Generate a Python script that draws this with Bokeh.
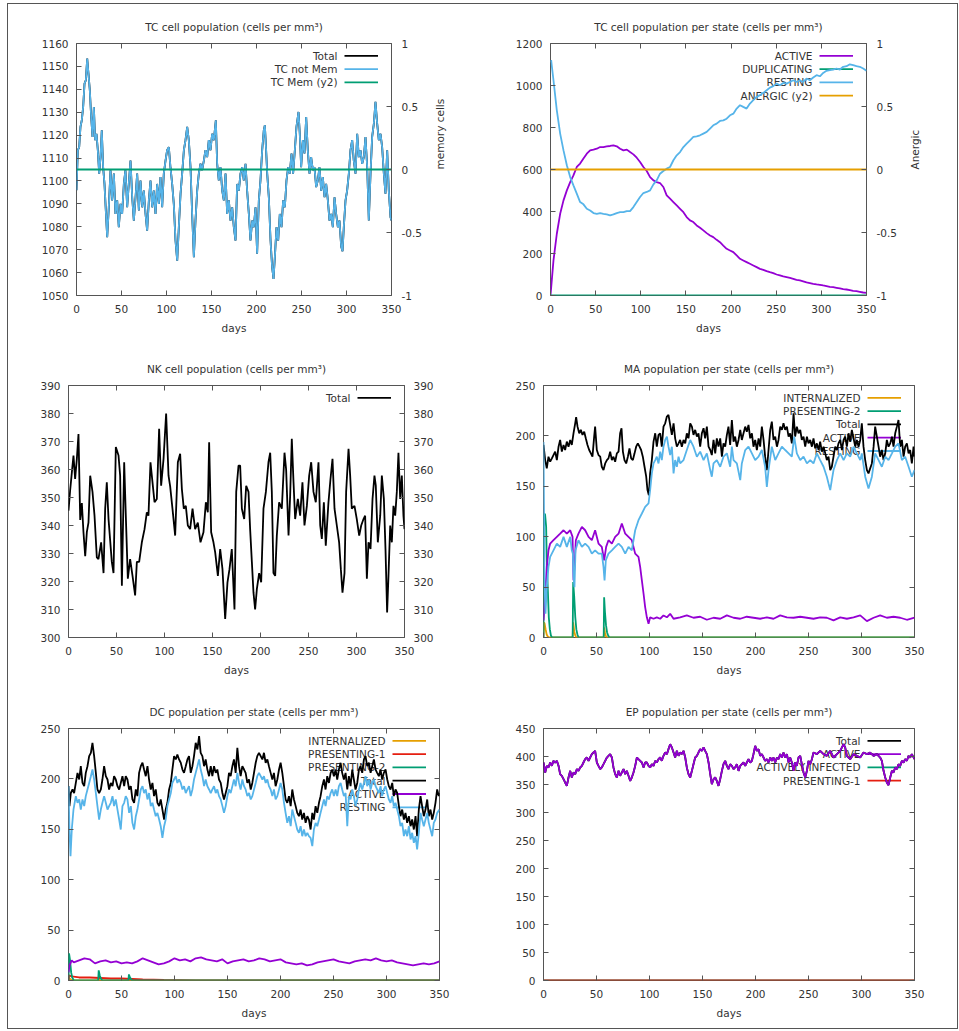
import math
from bokeh.plotting import figure
from bokeh.models import Range1d, LinearAxis, FixedTicker, CustomJSTickFormatter, Label, Arrow
from bokeh.layouts import row, column
from bokeh.embed import file_html
from bokeh.resources import INLINE

FONT = "DejaVu Sans"
FS = "10.5px"
TXT = "#333333"
EDGE = "#555555"
LW = 1.8
BLACK, BLUE, GREEN = "#000000", "#56B4E9", "#009E73"
PURPLE, ORANGE, RED = "#9400D3", "#E69F00", "#E51E10"

DAY_TICKS = [0, 50, 100, 150, 200, 250, 300, 350]
Y2_TICKS = [-1, -0.5, 0, 0.5, 1]
TC_TICKS = [1050, 1060, 1070, 1080, 1090, 1100, 1110, 1120, 1130, 1140, 1150, 1160]
TCS_TICKS = [0, 200, 400, 600, 800, 1000, 1200]
NK_TICKS = [300, 310, 320, 330, 340, 350, 360, 370, 380, 390]
MA_TICKS = [0, 50, 100, 150, 200, 250]
EP_TICKS = [0, 50, 100, 150, 200, 250, 300, 350, 400, 450]

# ---------------- data (day, cells per mm3) ----------------
TC_NOT_MEM = [
    (0, 1096), (1.5, 1113.4), (3.0, 1114.8), (4.4, 1123.6), (5.9, 1126.5), (7.4, 1132.3), (8.9, 1142.5), (10.4, 1144), (11.9, 1153.4), (13.3, 1146.9),
    (14.8, 1139.6), (16.3, 1128), (17.8, 1119.2), (19.3, 1132.3), (20.7, 1117.8), (22.2, 1120.6), (23.7, 1113.4), (25.2, 1103.2), (26.7, 1110.4), (28.1, 1122.1),
    (29.6, 1106), (31.1, 1098.7), (32.2, 1090), (34.1, 1075.4), (35.9, 1088.5), (37.8, 1104.7), (39.6, 1091.5), (41.5, 1103.2), (43.3, 1085.6), (45.2, 1091.5),
    (47.0, 1079.8), (48.9, 1090), (50.7, 1085.6), (52.6, 1098.7), (54.4, 1104.7), (56.3, 1088.5), (58.1, 1098.7), (60.0, 1108.9), (61.9, 1092.9), (63.7, 1082.7),
    (65.6, 1092.9), (67.4, 1103.2), (69.3, 1087.1), (71.1, 1100.2), (73.0, 1088.5), (74.8, 1095.8), (76.7, 1085.6), (78.5, 1078.3), (80.4, 1091.5), (82.2, 1100.2),
    (84.1, 1088.5), (85.9, 1095.8), (87.8, 1085.6), (89.6, 1098.7), (91.5, 1090), (93.3, 1101.7), (95.2, 1088.5), (97.0, 1103.2), (98.9, 1108.9), (100.7, 1113.4),
    (102.6, 1114.8), (104.4, 1106), (106.3, 1098.7), (108.1, 1090), (110.0, 1074), (111.9, 1065.2), (113.7, 1079.8), (115.6, 1094.4), (117.4, 1103.2), (119.3, 1113.4),
    (121.1, 1117.8), (123.0, 1123.6), (124.8, 1117.8), (126.7, 1106), (128.5, 1085.6), (130.4, 1066.7), (132.2, 1082.7), (134.1, 1095.8), (135.9, 1103.2), (137.8, 1107.5),
    (139.6, 1104.7), (141.5, 1108.9), (143.3, 1113.4), (145.2, 1110.4), (147.0, 1117.8), (148.9, 1113.4), (150.7, 1120.6), (152.6, 1117.8), (154.8, 1126.5), (156.3, 1107.5),
    (158.1, 1100.2), (160.0, 1106), (161.9, 1095.8), (163.7, 1091.5), (165.6, 1103.2), (167.4, 1085.6), (169.3, 1091.5), (171.1, 1082.7), (173.0, 1088.5), (174.8, 1079.8),
    (176.7, 1074), (178.5, 1098.7), (180.4, 1095.8), (182.2, 1103.2), (184.1, 1106), (185.9, 1100.2), (187.8, 1107.5), (189.6, 1095.8), (191.5, 1085.6), (193.3, 1074),
    (195.2, 1082.7), (197.0, 1079.8), (198.9, 1088.5), (200.7, 1068.2), (202.6, 1091.5), (204.4, 1100.2), (206.3, 1113.4), (208.1, 1122.1), (209.3, 1124.3), (210.7, 1113.4),
    (211.9, 1103.2), (213.7, 1092.9), (215.6, 1074), (217.4, 1062.3), (218.9, 1057.2), (220.4, 1066.7), (222.2, 1079.8), (224.1, 1074), (225.9, 1085.6), (227.8, 1079.8),
    (229.6, 1091.5), (231.5, 1088.5), (233.3, 1100.2), (235.2, 1106), (237.0, 1103.2), (238.9, 1112), (240.7, 1103.2), (242.6, 1113.4), (244.4, 1123.6), (246.7, 1130.1),
    (248.1, 1120.6), (249.6, 1106), (251.5, 1117.8), (253.3, 1112), (255.2, 1127.9), (257.0, 1113.4), (258.9, 1103.2), (260.7, 1110.4), (262.6, 1104.7), (264.4, 1106),
    (266.3, 1097.3), (268.1, 1100.2), (270.0, 1106), (271.9, 1095.8), (273.7, 1101.7), (275.6, 1092.9), (277.4, 1098.7), (279.3, 1091.5), (281.1, 1082.7), (283.0, 1085.6),
    (284.8, 1079.8), (286.7, 1092.9), (288.5, 1085.6), (290.4, 1079.8), (292.2, 1082.7), (294.1, 1071.4), (295.6, 1069.3), (297.0, 1079.8), (298.9, 1091.5), (300.7, 1095.8),
    (302.6, 1103.2), (304.4, 1113.4), (306.3, 1117.8), (308.1, 1108.9), (310.0, 1103.2), (311.9, 1120.6), (313.7, 1110.4), (315.6, 1113.4), (317.4, 1107.5), (319.3, 1110.4),
    (321.1, 1119.2), (323.0, 1106), (324.8, 1082.7), (326.7, 1103.2), (328.5, 1119.2), (330.4, 1125), (332.2, 1134.5), (334.1, 1125), (335.9, 1117.8), (337.8, 1120.6),
    (339.6, 1114.8), (341.5, 1103.2), (343.3, 1094.4), (345.2, 1113.4), (347.0, 1095.8), (348.9, 1084.2), (350.0, 1082.7)]
TC_TOTAL = TC_NOT_MEM
TC_MEM = [(0, 0), (350, 0)]

TCS_ACTIVE = [
    (0, 0), (3.3, 167), (7, 294), (10.7, 389), (14.4, 453), (18.1, 500.7), (21.8, 540), (25.4, 572), (29.1, 612), (32.8, 628),
    (36.5, 652), (40.2, 675.5), (43.9, 691), (47.6, 694.6), (51.3, 699), (55, 707), (58.6, 707), (62.3, 710.5), (66, 712), (69.7, 715),
    (73.4, 710.5), (77.1, 699), (80.8, 691), (84.5, 694.6), (88.1, 683), (91.8, 672), (95.5, 656), (99.2, 636), (102.9, 612), (106.6, 593),
    (110.3, 564), (114, 548), (117.6, 540), (121.3, 535.6), (125, 516.5), (128.7, 477), (132.4, 461), (136.1, 445), (139.8, 429), (143.5, 413),
    (147.2, 397), (150.8, 373.5), (154.5, 357.6), (158.2, 349.7), (161.9, 333.8), (165.6, 322.6), (169.3, 310), (173, 297), (176.7, 286), (180.3, 278),
    (184, 265), (187.7, 254), (191.4, 238), (195.1, 222.5), (198.8, 214.6), (202.5, 206.6), (206.2, 190.7), (209.9, 174.8), (213.5, 167), (217.2, 159),
    (220.9, 151), (224.6, 143), (228.3, 135), (232, 127), (235.7, 122.4), (239.4, 116), (243, 111), (246.7, 106.5), (250.4, 100), (254.1, 95.4),
    (257.8, 90.6), (261.5, 87.4), (265.2, 84), (268.9, 79.5), (272.5, 74.7), (276.2, 71.5), (279.9, 66.8), (283.6, 62), (287.3, 58.8), (291, 55.6),
    (294.7, 52.5), (298.4, 50.9), (302, 47.7), (305.7, 44.5), (309.4, 41.3), (313.1, 39.7), (316.8, 36.6), (320.5, 33.4), (324.2, 30.2), (327.9, 28.6),
    (331.6, 25.4), (335.2, 22.3), (338.9, 20.7), (342.6, 17.5), (346.3, 14.3), (350, 12.7)]
TCS_DUPLICATING = [(0, 0), (350, 0)]
TCS_RESTING = [
    (0, 1110), (0.7, 1120.5), (3.3, 1025), (7, 882), (10.7, 771), (14.4, 691), (18.1, 620), (21.8, 564), (25.4, 524.5), (29.1, 485),
    (32.8, 445), (36.5, 434), (40.2, 413), (43.9, 405), (47.6, 392.6), (51.3, 389), (55, 392.6), (58.6, 389), (62.3, 386), (66, 381.5),
    (69.7, 386), (73.4, 392.6), (77.1, 397), (80.8, 397), (84.5, 402), (88.1, 402), (91.8, 421), (95.5, 445), (99.2, 469), (102.9, 488),
    (106.6, 493), (110.3, 500.7), (114, 529), (117.6, 548), (121.3, 580), (125, 593), (128.7, 604), (132.4, 612), (136.1, 644), (139.8, 667.5),
    (143.5, 683), (147.2, 707), (150.8, 723), (154.5, 739), (158.2, 755), (161.9, 758), (165.6, 763), (169.3, 771), (173, 779), (176.7, 795),
    (180.3, 810.6), (184, 818.5), (187.7, 831), (191.4, 834), (195.1, 842), (198.8, 858), (202.5, 866), (206.2, 890), (209.9, 906), (213.5, 898),
    (217.2, 890), (220.9, 914), (224.6, 930), (228.3, 946), (232, 954), (235.7, 965), (239.4, 977.5), (243, 990), (246.7, 997), (250.4, 1009),
    (254.1, 1001), (257.8, 1012), (261.5, 1009), (265.2, 1017), (268.9, 1025), (272.5, 1017), (276.2, 1025), (279.9, 1017), (283.6, 1033), (287.3, 1025),
    (291, 1038), (294.7, 1049), (298.4, 1044), (302, 1060), (305.7, 1070), (309.4, 1073), (313.1, 1076), (316.8, 1081), (320.5, 1076), (324.2, 1089),
    (327.9, 1092), (331.6, 1101), (335.2, 1097), (338.9, 1092), (342.6, 1089), (346.3, 1081), (350, 1070)]
TCS_ANERGIC = [(0, 0), (350, 0)]

NK_TOTAL = [
    (0, 345.3), (1.7, 352.5), (3.5, 359), (5.2, 365), (6.9, 356.6), (8.7, 363.8), (10.4, 372.7), (12.2, 342), (13.9, 348), (15.6, 337.6),
    (17.4, 329), (19.1, 337.6), (20.8, 341), (22.6, 357.8), (25.0, 352), (27.1, 343.5), (29.5, 328.6), (31.2, 328), (34.0, 334), (36.5, 323),
    (38.2, 346), (39.9, 355.4), (41.7, 342.3), (45.1, 327), (46.9, 323), (49.3, 368), (52.1, 365), (53.8, 357.8), (55.6, 318.5), (58.0, 362.6),
    (59.7, 343.5), (61.8, 321), (64.2, 328), (66.7, 322), (69.4, 315), (71.2, 327), (73.6, 327), (76.4, 334), (79.2, 338.7), (81.6, 344.7),
    (83.3, 343.5), (85.4, 362.6), (87.5, 355.4), (89.6, 348.3), (92.0, 349.5), (94.4, 374.5), (96.5, 354.2), (99.0, 363.8), (101.7, 380), (104.2, 357.8),
    (105.9, 354), (108.3, 346), (111.1, 336.4), (113.9, 362.6), (116.3, 365.6), (118.1, 353), (120.1, 346), (122.2, 347), (124.3, 340), (126.7, 338.7),
    (129.2, 346), (131.9, 338.7), (134.7, 341), (137.5, 334), (140.6, 337.6), (143.1, 348.3), (145.1, 344.7), (146.5, 369.7), (148.6, 337.6), (151.0, 334),
    (152.8, 330.4), (155.6, 322), (158.0, 331.6), (160.4, 324.4), (163.2, 306.6), (165.6, 319.7), (167.7, 324.4), (170.1, 331.6), (172.9, 310), (174.7, 352),
    (177.1, 361.4), (178.8, 361.4), (180.6, 346), (183.0, 342.3), (185.1, 354.2), (187.5, 352), (189.2, 338.7), (191.0, 327), (192.7, 316), (194.4, 310),
    (196.2, 317.3), (198.6, 323), (200.7, 319.7), (203.1, 346), (205.6, 352), (208.3, 362.6), (210.1, 366), (211.8, 352), (213.5, 323), (215.3, 322),
    (217.0, 336.4), (219.4, 348.3), (222.2, 346), (225.0, 366), (226.7, 360), (229.2, 336.4), (230.9, 350.7), (232.6, 371), (234.4, 355.4), (236.1, 342.3),
    (238.9, 349.5), (241.3, 343.5), (243.7, 355.4), (245.8, 340), (248.3, 347), (250.7, 357.8), (252.8, 362.6), (255.2, 352), (257.6, 348.3), (260.4, 362.6),
    (262.2, 340), (263.9, 335.2), (266.0, 348.3), (268.0, 332.8), (270.8, 348.3), (272.9, 356.6), (275.0, 363.8), (277.1, 346), (279.5, 340), (281.9, 334),
    (283.7, 324.4), (285.4, 316), (287.5, 323), (289.2, 352), (291.7, 367.4), (293.4, 357.8), (295.1, 346), (297.9, 347), (300.3, 342.3), (302.8, 336.4),
    (304.9, 340), (307.3, 342.3), (309.0, 343.5), (310.8, 321), (312.5, 334), (314.6, 331.6), (316.7, 349.5), (318.7, 357.8), (320.1, 354.2), (322.2, 334),
    (324.7, 343.5), (326.4, 357.8), (328.5, 349.5), (330.2, 331.6), (331.9, 308.9), (333.3, 322), (335.1, 340), (336.8, 334), (338.5, 347), (340.3, 343.5),
    (342.0, 352), (343.7, 366), (345.5, 349.5), (347.2, 357.8), (348.9, 343.5), (350, 338.7)]

MA_INTERNALIZED = [(0, 0), (0.5, 15), (1, 14), (2, 8), (3, 3), (4, 1), (5, 0), (27.5, 0), (28, 15), (29, 6), (30, 2), (31, 0),
                   (56.8, 0), (57.2, 10), (58, 5), (59, 1), (60, 0), (350, 0)]
MA_PRESENTING2 = [(0, 0), (0.5, 123), (1.5, 122), (2.5, 110), (3, 80), (4, 50), (5, 20), (6, 8), (7, 2), (8, 0),
                  (27.5, 0), (28, 55), (29, 40), (30, 20), (31, 8), (32, 3), (33, 0),
                  (56.8, 0), (57.2, 40), (58, 25), (59, 12), (60, 5), (61, 2), (62, 0), (350, 0)]
MA_TOTAL = [
    (0, 191), (1.6, 176), (3.1, 167.8), (4.7, 179.4), (6.3, 174.4), (7.9, 177.7), (9.4, 181), (11.0, 184.4), (12.6, 176), (14.2, 189.3),
    (15.7, 196), (17.3, 184.4), (18.9, 191), (20.4, 186), (22.0, 194.3), (23.6, 189.3), (25.2, 196), (26.7, 191), (28.3, 202.6), (29.9, 212.5),
    (30.8, 218.5), (32.1, 209.2), (33.7, 202.6), (35.2, 206), (36.8, 201), (38.4, 204.2), (39.9, 197.6), (41.5, 191), (43.1, 186), (44.7, 182.7),
    (46.2, 179.4), (47.8, 199.3), (48.7, 209.2), (50.3, 186), (51.9, 181), (53.5, 179.4), (55.0, 169.4), (56.6, 166.1), (58.2, 172.7), (59.8, 176),
    (61.3, 177.7), (62.9, 184.4), (64.5, 176), (66.0, 179.4), (67.6, 174.4), (69.2, 182.7), (70.8, 184.4), (72.3, 202.6), (73.6, 207.6), (74.9, 184.4),
    (76.4, 176), (78.0, 172.7), (79.6, 179.4), (81.1, 187.7), (82.7, 177.7), (84.3, 176), (85.9, 182.7), (87.4, 189.3), (89.0, 192.6), (90.6, 189.3),
    (92.1, 186), (93.7, 179.4), (95.3, 169.4), (96.9, 159.5), (98.1, 146.2), (99.4, 141.2), (100.6, 162.8), (102.2, 176), (103.8, 194.3), (105.4, 202.6),
    (106.9, 189.3), (108.5, 201), (110.1, 202.6), (111.6, 189.3), (113.2, 209.2), (114.8, 212.5), (116.4, 219.2), (117.9, 220.8), (119.5, 210.9), (121.1, 201),
    (122.7, 212.5), (124.2, 197.6), (125.8, 189.3), (127.4, 192.6), (128.9, 196), (130.5, 189.3), (132.1, 196), (133.7, 192.6), (135.2, 202.6), (136.8, 197.6),
    (138.4, 212.5), (140.0, 209.2), (141.5, 201), (143.1, 206), (144.7, 199.3), (146.2, 202.6), (147.8, 189.3), (149.4, 202.6), (151.0, 207.6), (152.5, 197.6),
    (154.1, 209.2), (155.7, 189.3), (157.3, 186), (158.8, 181), (160.4, 196), (162.0, 182.7), (163.5, 197.6), (165.1, 189.3), (166.7, 197.6), (168.3, 179.4),
    (169.8, 192.6), (171.4, 189.3), (173.0, 201), (174.5, 209.2), (176.1, 191), (177.7, 215.8), (179.3, 194.3), (180.8, 199.3), (182.4, 189.3), (184.0, 196),
    (185.6, 206), (187.1, 196), (188.7, 202.6), (190.3, 209.2), (191.8, 204.2), (193.4, 210.9), (195.0, 197.6), (196.6, 202.6), (198.1, 189.3), (199.7, 196),
    (201.3, 186), (202.9, 197.6), (204.4, 189.3), (206.0, 209.2), (207.6, 196), (209.1, 179.4), (210.7, 166.1), (212.3, 186), (213.9, 206), (215.4, 214.2),
    (217.0, 196), (218.6, 199.3), (220.2, 189.3), (221.7, 196), (223.3, 209.2), (224.9, 206), (226.4, 212.5), (228.0, 206), (229.6, 209.2), (231.2, 199.3),
    (232.7, 202.6), (234.3, 192.6), (235.9, 222.5), (237.4, 199.3), (239.0, 209.2), (240.6, 202.6), (242.2, 206), (243.7, 196), (245.3, 199.3), (246.9, 189.3),
    (248.5, 199.3), (250.0, 192.6), (251.6, 196), (253.2, 189.3), (254.7, 197.6), (256.3, 187.7), (257.9, 192.6), (259.5, 186), (261.0, 194.3), (262.6, 184.4),
    (264.2, 189.3), (265.8, 182.7), (267.3, 176), (268.9, 179.4), (270.5, 166.1), (272.0, 169.4), (273.6, 179.4), (275.2, 189.3), (276.8, 186), (278.3, 192.6),
    (279.9, 196), (281.5, 186), (283.1, 196), (284.6, 199.3), (286.2, 189.3), (287.8, 202.6), (289.3, 194.3), (290.9, 206), (292.5, 197.6), (294.1, 189.3),
    (295.6, 196), (297.2, 189.3), (298.8, 196), (300.3, 212.5), (301.9, 189.3), (303.5, 176), (305.1, 166.1), (306.6, 162.8), (308.2, 167.8), (309.8, 172.7),
    (311.4, 189.3), (312.9, 209.2), (314.5, 199.3), (316.1, 189.3), (317.6, 179.4), (319.2, 186), (320.8, 176), (322.4, 182.7), (323.9, 196), (325.5, 189.3),
    (327.1, 192.6), (328.7, 199.3), (330.2, 189.3), (331.8, 202.6), (333.4, 209.2), (334.9, 215.8), (336.5, 189.3), (338.1, 196), (339.7, 179.4), (341.2, 189.3),
    (342.8, 192.6), (344.4, 182.7), (345.9, 186), (347.5, 172.7), (349.1, 189.3), (350, 179.4)]
MA_ACTIVE = [
    (0, 17), (1.6, 43), (3.1, 70), (4.7, 86.5), (6.3, 93.2), (9.4, 96.5), (12.6, 99.8), (15.7, 103), (18.9, 106.4), (22.0, 103),
    (25.2, 106.4), (27.4, 99.8), (28.3, 56.7), (29.2, 70), (30.5, 96.5), (33.0, 103), (36.2, 109.7), (39.3, 106.4), (42.5, 99.8), (45.6, 96.5),
    (48.7, 106.4), (51.9, 93.2), (55.0, 89.9), (57.2, 76.6), (59.1, 89.9), (61.3, 96.5), (64.5, 93.2), (67.6, 99.8), (70.8, 103), (73.9, 113.1),
    (77.1, 103), (80.2, 99.8), (83.3, 96.5), (86.5, 83.2), (89.6, 80), (91.2, 70), (92.8, 56.7), (94.4, 43.4), (95.9, 30.2), (97.5, 20),
    (99.1, 13.6), (100.6, 20), (103.8, 18.6), (106.9, 20), (110.1, 18.6), (113.2, 21.9), (116.4, 20), (119.5, 23.5), (122.7, 18.6), (128.9, 20),
    (135.2, 21.9), (141.5, 19.6), (147.8, 20.6), (154.1, 17.6), (160.4, 19.6), (166.7, 18.6), (173.0, 21.9), (179.3, 19.6), (185.6, 18.6), (191.8, 20.6),
    (198.1, 19.6), (204.4, 18.6), (210.7, 20), (217.0, 18.6), (223.3, 21.9), (229.6, 20), (235.9, 19.6), (242.2, 20.6), (248.5, 19.6), (254.7, 18.6),
    (261.0, 20), (267.3, 19.6), (273.6, 17), (279.9, 20), (286.2, 18.6), (292.5, 20), (298.8, 21.9), (305.1, 16.2), (311.4, 19.6), (317.6, 21.9),
    (323.9, 19.6), (330.2, 20.6), (336.5, 19.6), (342.8, 17.6), (350, 19.6)]
MA_RESTING = [
    (0, 194), (0.9, 56.7), (1.9, 23.5), (3.1, 50), (4.7, 70), (6.3, 80), (9.4, 86.5), (12.6, 93.2), (15.7, 89.9), (18.9, 99.8),
    (22.0, 89.9), (25.2, 99.8), (26.7, 86.5), (27.7, 83.2), (28.3, 60), (29.2, 50), (30.2, 86.5), (33.0, 96.5), (36.2, 89.9), (39.3, 93.2),
    (42.5, 89.9), (45.6, 83.2), (48.7, 86.5), (51.9, 83.2), (55.0, 83.2), (56.6, 70), (57.6, 56.7), (58.8, 76.6), (61.3, 83.2), (64.5, 86.5),
    (67.6, 89.9), (70.8, 93.2), (73.9, 89.9), (77.1, 83.2), (80.2, 89.9), (83.3, 86.5), (84.9, 96.5), (86.5, 106.4), (89.6, 116.4), (92.8, 123),
    (95.9, 129.6), (99.1, 133), (100.6, 146.2), (102.2, 162.8), (103.8, 172.7), (105.4, 176), (106.9, 179.4), (108.5, 172.7), (110.1, 184.4), (111.6, 176),
    (113.2, 189.3), (114.8, 196), (116.4, 199.3), (117.9, 189.3), (119.5, 181), (121.1, 189.3), (122.7, 162.8), (124.2, 176), (125.8, 169.4), (127.4, 179.4),
    (128.9, 172.7), (132.1, 176), (135.2, 186), (138.4, 196), (141.5, 189.3), (144.7, 179.4), (147.8, 184.4), (151.0, 176), (154.1, 182.7), (157.3, 166.1),
    (158.8, 159.5), (160.4, 172.7), (163.5, 176), (166.7, 169.4), (169.8, 179.4), (173.0, 182.7), (176.1, 169.4), (177.7, 189.3), (179.3, 176), (182.4, 172.7),
    (185.6, 156.2), (187.1, 172.7), (190.3, 186), (193.4, 189.3), (196.6, 182.7), (199.7, 176), (202.9, 179.4), (206.0, 186), (209.1, 169.4), (210.7, 149.5),
    (212.3, 166.1), (215.4, 189.3), (218.6, 176), (221.7, 182.7), (224.9, 189.3), (228.0, 186), (231.2, 182.7), (234.3, 179.4), (236.5, 199.3), (239.0, 182.7),
    (242.2, 176), (245.3, 179.4), (248.5, 172.7), (251.6, 176), (254.7, 172.7), (257.9, 182.7), (261.0, 176), (264.2, 169.4), (267.3, 159.5), (268.9, 152.8),
    (270.5, 146.2), (272.0, 156.2), (273.6, 166.1), (276.8, 176), (279.9, 182.7), (283.1, 176), (286.2, 182.7), (289.3, 179.4), (292.5, 189.3), (295.6, 182.7),
    (298.8, 176), (300.3, 182.7), (303.5, 159.5), (306.6, 147.9), (309.8, 159.5), (312.9, 182.7), (316.1, 176), (319.2, 169.4), (322.4, 179.4), (325.5, 176),
    (328.7, 182.7), (331.8, 189.3), (334.9, 192.6), (338.1, 176), (341.2, 179.4), (344.4, 169.4), (347.5, 159.5), (350, 166.1)]

DC_INTERNALIZED = [(0, 0), (0.5, 3), (2, 1), (4, 0), (28, 0), (28.5, 1), (30, 0), (350, 0)]
DC_PRESENTING1 = [(0, 0), (0.5, 5), (3, 4), (10, 3), (20, 3), (30, 2.5), (40, 2), (50, 2), (60, 1.5), (70, 1),
                  (90, 0.5), (120, 0.2), (150, 0), (350, 0)]
DC_PRESENTING2 = [(0, 0), (0.5, 27), (1.5, 20), (2.5, 8), (3.5, 3), (5, 0), (28, 0), (28.5, 10), (29.5, 5), (31, 1),
                  (32, 0), (56.5, 0), (57, 6), (58, 3), (60, 0), (350, 0)]
DC_TOTAL = [
    (0, 192.8), (0.9, 173), (2.2, 186), (3.8, 189.5), (5.3, 186), (6.9, 196), (8.5, 206), (10.1, 199.4), (11.6, 212.6), (13.2, 196),
    (14.8, 192.8), (16.3, 206), (17.9, 212.6), (19.5, 222.6), (21.1, 225.9), (22.6, 235.8), (24.2, 222.6), (25.8, 206), (27.3, 189.5), (28.9, 186),
    (30.5, 189.5), (32.0, 199.4), (33.6, 212.6), (35.2, 202.7), (36.8, 199.4), (38.3, 189.5), (39.9, 196), (41.5, 192.8), (43.0, 202.7), (44.6, 199.4),
    (46.2, 192.8), (47.8, 189.5), (49.3, 196), (50.9, 202.7), (52.5, 192.8), (54.0, 202.7), (55.6, 199.4), (57.2, 189.5), (58.8, 192.8), (60.3, 179.6),
    (61.9, 176.3), (63.5, 189.5), (65.0, 182.9), (66.6, 206), (68.2, 212.6), (69.8, 216), (71.3, 209.3), (72.9, 202.7), (74.5, 212.6), (76.0, 199.4),
    (77.6, 189.5), (79.2, 196), (80.7, 182.9), (82.3, 189.5), (83.9, 176.3), (85.5, 173), (87.0, 179.6), (88.6, 169.6), (90.2, 159.7), (91.7, 169.6),
    (93.3, 176.3), (94.9, 189.5), (96.5, 196), (98.0, 209.3), (99.6, 222.6), (101.2, 219.3), (102.7, 224.2), (104.3, 219.3), (105.9, 216), (107.5, 209.3),
    (109.0, 206), (110.6, 212.6), (112.2, 219.3), (113.7, 222.6), (115.3, 206), (116.9, 212.6), (118.4, 222.6), (120.0, 235.8), (121.6, 229.2), (123.2, 242.4),
    (124.7, 225.9), (126.3, 222.6), (127.9, 212.6), (129.4, 219.3), (131.0, 209.3), (132.6, 202.7), (134.2, 212.6), (135.7, 202.7), (137.3, 212.6), (138.9, 206),
    (140.4, 209.3), (142.0, 199.4), (143.6, 196), (145.2, 186), (146.7, 179.6), (148.3, 186), (149.9, 192.8), (151.4, 206), (153.0, 202.7), (154.6, 212.6),
    (156.1, 219.3), (157.7, 206), (159.3, 230.8), (160.9, 212.6), (162.4, 202.7), (164.0, 212.6), (165.6, 209.3), (167.1, 206), (168.7, 196), (170.3, 199.4),
    (171.9, 189.5), (173.4, 196), (175.0, 206), (176.6, 216), (178.1, 222.6), (179.7, 225.9), (181.3, 222.6), (182.9, 219.3), (184.4, 225.9), (186.0, 216),
    (187.6, 219.3), (189.1, 212.6), (190.7, 206), (192.3, 199.4), (193.8, 206), (195.4, 192.8), (197.0, 199.4), (198.6, 209.3), (200.1, 216), (201.7, 206),
    (203.3, 192.8), (204.8, 179.6), (206.4, 176.3), (208.0, 182.9), (209.6, 173), (211.1, 189.5), (212.7, 179.6), (214.3, 173), (215.8, 166.3), (217.4, 163),
    (219.0, 169.6), (220.5, 159.7), (222.1, 166.3), (223.7, 156.4), (225.3, 163), (226.8, 159.7), (228.4, 149.8), (230.0, 166.3), (231.5, 159.7), (233.1, 173),
    (234.7, 166.3), (236.3, 176.3), (237.8, 182.9), (239.4, 192.8), (241.0, 199.4), (242.5, 189.5), (244.1, 202.7), (245.7, 196), (247.3, 206), (248.8, 209.3),
    (250.4, 202.7), (252.0, 209.3), (253.5, 199.4), (255.1, 209.3), (256.7, 216), (258.2, 206), (259.8, 199.4), (261.4, 206), (263.0, 189.5), (264.5, 202.7),
    (266.1, 192.8), (267.7, 209.3), (269.2, 199.4), (270.8, 189.5), (272.4, 196), (274.0, 209.3), (275.5, 212.6), (277.1, 206), (278.7, 219.3), (280.2, 222.6),
    (281.8, 212.6), (283.4, 216), (285.0, 206), (286.5, 212.6), (288.1, 219.3), (289.7, 209.3), (291.2, 206), (292.8, 202.7), (294.4, 209.3), (295.9, 199.4),
    (297.5, 206), (299.1, 209.3), (300.7, 199.4), (302.2, 192.8), (303.8, 189.5), (305.4, 196), (306.9, 182.9), (308.5, 189.5), (310.1, 186), (311.7, 173),
    (313.2, 163), (314.8, 169.6), (316.4, 159.7), (317.9, 166.3), (319.5, 156.4), (321.1, 163), (322.7, 153.1), (324.2, 159.7), (325.8, 149.8), (327.4, 163),
    (328.9, 143.2), (330.5, 169.6), (332.1, 182.9), (333.6, 173), (335.2, 163), (336.8, 169.6), (338.4, 179.6), (339.9, 163), (341.5, 169.6), (343.1, 159.7),
    (344.6, 166.3), (346.2, 176.3), (347.8, 189.5), (349.4, 182.9), (350, 186)]
DC_ACTIVE = [
    (0, 8), (1, 15), (3, 20), (5, 18), (10, 20), (15, 22), (20, 21), (25, 17), (30, 19), (35, 20),
    (40, 18), (45, 19), (50, 17), (55, 18), (60, 17), (65, 19), (70, 22), (75, 20), (80, 18), (85, 16),
    (90, 17), (95, 19), (100, 22), (105, 20), (110, 21), (115, 19), (120, 22), (125, 23), (130, 21), (135, 20),
    (140, 19), (145, 21), (150, 17), (155, 19), (160, 20), (165, 21), (170, 19), (175, 20), (180, 22), (185, 21),
    (190, 19), (195, 20), (200, 21), (205, 18), (210, 17), (215, 16), (220, 17), (225, 15), (230, 16), (235, 18),
    (240, 19), (245, 20), (250, 21), (255, 19), (260, 18), (265, 17), (270, 19), (275, 20), (280, 21), (285, 20),
    (290, 22), (295, 20), (300, 19), (305, 20), (310, 18), (315, 17), (320, 16), (325, 15), (330, 16), (335, 17),
    (340, 16), (345, 17), (350, 19)]
DC_RESTING = [
    (0, 192.8), (0.9, 149.8), (1.9, 123.3), (3.1, 149.8), (4.7, 169.6), (6.9, 182.9), (8.5, 176.3), (10.1, 179.6), (11.6, 169.6), (13.2, 179.6),
    (14.8, 173), (16.3, 182.9), (17.9, 189.5), (19.5, 196), (21.1, 202.7), (22.6, 209.3), (24.2, 199.4), (25.8, 186), (27.3, 173), (28.9, 159.7),
    (30.5, 169.6), (32.0, 176.3), (33.6, 182.9), (35.2, 176.3), (36.8, 169.6), (38.3, 173), (39.9, 176.3), (41.5, 182.9), (43.0, 173), (44.6, 179.6),
    (46.2, 169.6), (47.8, 159.7), (49.3, 149.8), (50.9, 173), (52.5, 176.3), (54.0, 182.9), (55.6, 179.6), (57.2, 166.3), (58.8, 173), (60.3, 156.4),
    (61.9, 149.8), (63.5, 163), (65.0, 169.6), (66.6, 179.6), (68.2, 189.5), (69.8, 192.8), (71.3, 186), (72.9, 189.5), (74.5, 179.6), (76.0, 186),
    (77.6, 173), (79.2, 176.3), (80.7, 169.6), (82.3, 163), (83.9, 166.3), (85.5, 159.7), (87.0, 153.1), (88.6, 141.5), (90.2, 153.1), (91.7, 159.7),
    (93.3, 173), (94.9, 179.6), (96.5, 186), (98.0, 196), (99.6, 199.4), (101.2, 202.7), (102.7, 196), (104.3, 199.4), (105.9, 196), (107.5, 189.5),
    (109.0, 192.8), (110.6, 186), (112.2, 189.5), (113.7, 192.8), (115.3, 182.9), (116.9, 189.5), (118.4, 199.4), (120.0, 206), (121.6, 212.6), (123.2, 219.3),
    (124.7, 209.3), (126.3, 202.7), (127.9, 192.8), (129.4, 199.4), (131.0, 192.8), (132.6, 189.5), (134.2, 186), (135.7, 189.5), (137.3, 192.8), (138.9, 186),
    (140.4, 189.5), (142.0, 182.9), (143.6, 179.6), (145.2, 173), (146.7, 166.3), (148.3, 173), (149.9, 182.9), (151.4, 189.5), (153.0, 186), (154.6, 192.8),
    (156.1, 199.4), (157.7, 192.8), (159.3, 206), (160.9, 196), (162.4, 189.5), (164.0, 199.4), (165.6, 192.8), (167.1, 189.5), (168.7, 182.9), (170.3, 186),
    (171.9, 179.6), (173.4, 182.9), (175.0, 189.5), (176.6, 196), (178.1, 202.7), (179.7, 206), (181.3, 202.7), (182.9, 199.4), (184.4, 202.7), (186.0, 196),
    (187.6, 199.4), (189.1, 192.8), (190.7, 189.5), (192.3, 182.9), (193.8, 189.5), (195.4, 179.6), (197.0, 182.9), (198.6, 189.5), (200.1, 196), (201.7, 189.5),
    (203.3, 176.3), (204.8, 166.3), (206.4, 156.4), (208.0, 163), (209.6, 153.1), (211.1, 169.6), (212.7, 163), (214.3, 156.4), (215.8, 149.8), (217.4, 146.5),
    (219.0, 153.1), (220.5, 143.2), (222.1, 149.8), (223.7, 143.2), (225.3, 146.5), (226.8, 143.2), (228.4, 141.5), (230.0, 133.3), (231.5, 149.8), (233.1, 156.4),
    (234.7, 153.1), (236.3, 159.7), (237.8, 166.3), (239.4, 173), (241.0, 179.6), (242.5, 173), (244.1, 182.9), (245.7, 179.6), (247.3, 186), (248.8, 189.5),
    (250.4, 182.9), (252.0, 189.5), (253.5, 182.9), (255.1, 192.8), (256.7, 196), (258.2, 189.5), (259.8, 182.9), (261.4, 186), (263.0, 153.1), (264.5, 182.9),
    (266.1, 179.6), (267.7, 189.5), (269.2, 182.9), (270.8, 173), (272.4, 179.6), (274.0, 189.5), (275.5, 196), (277.1, 189.5), (278.7, 196), (280.2, 202.7),
    (281.8, 192.8), (283.4, 199.4), (285.0, 189.5), (286.5, 196), (288.1, 199.4), (289.7, 192.8), (291.2, 189.5), (292.8, 186), (294.4, 192.8), (295.9, 182.9),
    (297.5, 189.5), (299.1, 192.8), (300.7, 186), (302.2, 179.6), (303.8, 176.3), (305.4, 182.9), (306.9, 173), (308.5, 176.3), (310.1, 169.6), (311.7, 163),
    (313.2, 153.1), (314.8, 156.4), (316.4, 143.2), (317.9, 149.8), (319.5, 143.2), (321.1, 153.1), (322.7, 139.9), (324.2, 146.5), (325.8, 136.6), (327.4, 143.2),
    (328.9, 130), (330.5, 146.5), (332.1, 166.3), (333.6, 159.7), (335.2, 153.1), (336.8, 159.7), (338.4, 166.3), (339.9, 156.4), (341.5, 149.8), (343.1, 143.2),
    (344.6, 156.4), (346.2, 159.7), (347.8, 166.3), (350, 169.6)]

EP_ACTIVE = [
    (0, 389.3), (1.6, 371.4), (3.1, 383.3), (4.7, 380.4), (6.3, 389.3), (7.9, 383.3), (9.4, 392.3), (11.0, 389.3), (12.6, 392.3), (14.2, 383.3),
    (15.7, 368.5), (17.3, 365.5), (18.9, 359.5), (20.4, 353.6), (22.0, 347.6), (23.6, 362.5), (25.2, 374.4), (26.7, 362.5), (28.3, 371.4), (29.9, 368.5),
    (31.5, 377.4), (33.0, 374.4), (34.6, 380.4), (36.2, 383.3), (37.7, 389.3), (39.3, 395.2), (40.9, 398.2), (42.5, 392.3), (44.0, 398.2), (45.6, 404.2),
    (47.2, 407.1), (48.7, 410.1), (50.3, 389.3), (51.9, 383.3), (53.5, 377.4), (55.0, 380.4), (56.6, 386.3), (58.2, 392.3), (59.8, 398.2), (61.3, 401.2),
    (62.9, 404.2), (64.5, 398.2), (66.0, 380.4), (67.6, 368.5), (69.2, 362.5), (70.8, 374.4), (72.3, 365.5), (73.9, 371.4), (75.5, 377.4), (77.1, 368.5),
    (78.6, 374.4), (80.2, 365.5), (81.8, 356.5), (83.3, 362.5), (84.9, 371.4), (86.5, 383.3), (88.1, 398.2), (89.6, 395.2), (91.2, 392.3), (92.8, 389.3),
    (94.4, 380.4), (95.9, 389.3), (97.5, 389.3), (99.1, 383.3), (100.6, 380.4), (102.2, 386.3), (103.8, 383.3), (105.4, 392.3), (106.9, 389.3), (108.5, 395.2),
    (110.1, 398.2), (111.6, 392.3), (113.2, 401.2), (114.8, 407.1), (116.4, 404.2), (117.9, 413.1), (119.5, 422), (121.1, 416.1), (122.7, 407.1), (124.2, 398.2),
    (125.8, 410.1), (127.4, 401.2), (128.9, 407.1), (130.5, 404.2), (132.1, 410.1), (133.7, 398.2), (135.2, 380.4), (136.8, 368.5), (138.4, 362.5), (140.0, 374.4),
    (141.5, 386.3), (143.1, 398.2), (144.7, 401.2), (146.2, 407.1), (147.8, 413.1), (149.4, 410.1), (151.0, 416.1), (152.5, 410.1), (154.1, 404.2), (155.7, 389.3),
    (157.3, 368.5), (158.8, 350.6), (160.4, 359.5), (162.0, 362.5), (163.5, 356.5), (165.1, 347.6), (166.7, 359.5), (168.3, 374.4), (169.8, 386.3), (171.4, 392.3),
    (173.0, 383.3), (174.5, 377.4), (176.1, 386.3), (177.7, 383.3), (179.3, 377.4), (180.8, 380.4), (182.4, 386.3), (184.0, 374.4), (185.6, 383.3), (187.1, 386.3),
    (188.7, 389.3), (190.3, 383.3), (191.8, 389.3), (193.4, 395.2), (195.0, 389.3), (196.6, 392.3), (198.1, 404.2), (199.7, 419), (201.3, 410.1), (202.9, 413.1),
    (204.4, 401.2), (206.0, 404.2), (207.6, 398.2), (209.1, 392.3), (210.7, 395.2), (212.3, 389.3), (213.9, 398.2), (215.4, 392.3), (217.0, 398.2), (218.6, 389.3),
    (220.2, 398.2), (221.7, 395.2), (223.3, 404.2), (224.9, 398.2), (226.4, 407.1), (228.0, 398.2), (229.6, 404.2), (231.2, 389.3), (232.7, 398.2), (234.3, 389.3),
    (235.9, 374.4), (237.4, 389.3), (239.0, 383.3), (240.6, 398.2), (242.2, 401.2), (243.7, 386.3), (245.3, 371.4), (246.9, 362.5), (248.5, 374.4), (250.0, 392.3),
    (251.6, 386.3), (253.2, 395.2), (254.7, 407.1), (257.9, 404.2), (261.0, 410.1), (264.2, 404.2), (267.3, 401.2), (270.5, 410.1), (273.6, 398.2), (276.8, 404.2),
    (279.9, 410.1), (283.1, 422), (284.6, 416.1), (286.2, 401.2), (289.3, 395.2), (292.5, 404.2), (295.6, 401.2), (298.8, 398.2), (301.9, 407.1), (305.1, 404.2),
    (308.2, 407.1), (311.4, 401.2), (314.5, 404.2), (317.6, 398.2), (319.2, 392.3), (320.8, 374.4), (322.4, 362.5), (323.9, 353.6), (325.5, 348.8), (327.1, 362.5),
    (328.7, 374.4), (330.2, 371.4), (331.8, 380.4), (333.4, 377.4), (334.9, 386.3), (336.5, 383.3), (338.1, 392.3), (339.7, 389.3), (341.2, 395.2), (342.8, 392.3),
    (344.4, 401.2), (345.9, 398.2), (347.5, 404.2), (350, 395.2)]
EP_TOTAL = EP_ACTIVE
EP_INFECTED = [(0, 0), (350, 0)]
EP_PRESENTING1 = [(0, 0), (350, 0)]


def xs(data):
    return [d for d, _ in data]


def ys(data):
    return [v for _, v in data]


def style_axis(ax, show=True, standoff=7):
    ax.axis_line_color = None
    ax.major_tick_line_color = EDGE
    ax.major_tick_line_width = 1
    ax.major_tick_in = 5
    ax.major_tick_out = 0
    ax.minor_tick_line_color = None
    ax.major_label_text_font = FONT
    ax.major_label_text_font_size = FS
    ax.major_label_text_color = TXT
    ax.major_label_standoff = standoff
    ax.axis_label_text_font = FONT
    ax.axis_label_text_font_size = FS
    ax.axis_label_text_font_style = "normal"
    ax.axis_label_text_color = TXT
    if show:
        ax.formatter = CustomJSTickFormatter(code="return tick.toString();")
    else:
        ax.formatter = CustomJSTickFormatter(code="return '';")
        ax.major_label_standoff = 0


def panel(title, yr, yticks, geom, right_mode="mirror", y2label=None):
    fw, fh, bl, br, bt, bb = geom
    p = figure(title=title, frame_width=fw, frame_height=fh,
               min_border_left=bl, min_border_right=br, min_border_top=bt, min_border_bottom=bb,
               x_range=Range1d(0, 350), y_range=Range1d(*yr),
               x_axis_type=None, y_axis_type=None,
               output_backend="svg", toolbar_location=None)
    p.outline_line_color = EDGE
    p.outline_line_width = 1
    p.background_fill_color = "white"
    p.border_fill_color = "white"
    p.title.align = "center"
    p.title.text_font = FONT
    p.title.text_font_size = FS
    p.title.text_font_style = "normal"
    p.title.text_color = TXT
    p.title.standoff = 22

    bottom = LinearAxis(ticker=FixedTicker(ticks=DAY_TICKS), axis_label="days")
    style_axis(bottom, standoff=9)
    bottom.axis_label_standoff = 6
    p.add_layout(bottom, "below")

    top = LinearAxis(ticker=FixedTicker(ticks=DAY_TICKS))
    style_axis(top, show=False)
    p.add_layout(top, "above")

    left = LinearAxis(ticker=FixedTicker(ticks=yticks))
    style_axis(left, standoff=8)
    p.add_layout(left, "left")

    if right_mode == "y2":
        p.extra_y_ranges = {"y2": Range1d(-1, 1)}
        right = LinearAxis(y_range_name="y2", ticker=FixedTicker(ticks=Y2_TICKS), axis_label=y2label)
        style_axis(right, standoff=10)
        right.axis_label_standoff = 15
        if hasattr(right, "axis_label_orientation"):
            right.axis_label_orientation = math.pi / 2
        p.add_layout(right, "right")
    elif right_mode == "labels":
        right = LinearAxis(ticker=FixedTicker(ticks=yticks))
        style_axis(right, standoff=9)
        p.add_layout(right, "right")
    else:
        right = LinearAxis(ticker=FixedTicker(ticks=yticks))
        style_axis(right, show=False)
        p.add_layout(right, "right")
    return p


def key(p, entries, yr, geom):
    fw, fh = geom[0], geom[1]
    y0, y1 = yr
    for i, (label, color) in enumerate(entries):
        ypx = 12.3 + 13.3 * i
        yd = y1 - ypx / fh * (y1 - y0)
        xt = (fw - 54) / fw * 350
        xa = (fw - 47) / fw * 350
        xb = (fw - 13.5) / fw * 350
        p.add_layout(Label(x=xt, y=yd, text=label, text_align="right", text_baseline="middle",
                           text_font=FONT, text_font_size=FS, text_color=TXT, level="underlay"))
        p.add_layout(Arrow(end=None, x_start=xa, y_start=yd, x_end=xb, y_end=yd,
                           line_color=color, line_width=LW, level="underlay"))


def draw(p, data, color, **kw):
    p.line(xs(data), ys(data), line_color=color, line_width=LW, **kw)


# geometry: frame_w, frame_h, border_left, border_right, border_top, border_bottom
# ---------------- panel 1: TC cell population ----------------
g1 = (315, 252, 68, 89, 39, 53)
yr1 = (1050, 1160)
p1 = panel("TC cell population (cells per mm³)", yr1, TC_TICKS, g1, "y2", "memory cells")
key(p1, [("Total", BLACK), ("TC not Mem", BLUE), ("TC Mem (y2)", GREEN)], yr1, g1)
draw(p1, TC_TOTAL, BLACK)
draw(p1, TC_NOT_MEM, BLUE)
draw(p1, TC_MEM, GREEN, y_range_name="y2")

# ---------------- panel 2: TC per state ----------------
g2 = (316, 252, 70, 91, 39, 53)
yr2 = (0, 1200)
p2 = panel("TC cell population per state (cells per mm³)", yr2, TCS_TICKS, g2, "y2", "Anergic")
key(p2, [("ACTIVE", PURPLE), ("DUPLICATING", GREEN), ("RESTING", BLUE), ("ANERGIC (y2)", ORANGE)], yr2, g2)
draw(p2, TCS_ACTIVE, PURPLE)
draw(p2, TCS_DUPLICATING, GREEN)
draw(p2, TCS_RESTING, BLUE)
draw(p2, TCS_ANERGIC, ORANGE, y_range_name="y2")

# ---------------- panel 3: NK ----------------
g3 = (336, 252, 60, 76, 37, 53)
yr3 = (300, 390)
p3 = panel("NK cell population (cells per mm³)", yr3, NK_TICKS, g3, "labels")
key(p3, [("Total", BLACK)], yr3, g3)
draw(p3, NK_TOTAL, BLACK)

# ---------------- panel 4: MA ----------------
g4 = (371, 252, 63, 43, 37, 53)
yr4 = (0, 250)
p4 = panel("MA population per state (cells per mm³)", yr4, MA_TICKS, g4)
key(p4, [("INTERNALIZED", ORANGE), ("PRESENTING-2", GREEN), ("Total", BLACK), ("ACTIVE", PURPLE), ("RESTING", BLUE)], yr4, g4)
draw(p4, MA_INTERNALIZED, ORANGE)
draw(p4, MA_PRESENTING2, GREEN)
draw(p4, MA_TOTAL, BLACK)
draw(p4, MA_ACTIVE, PURPLE)
draw(p4, MA_RESTING, BLUE)

# ---------------- panel 5: DC ----------------
g5 = (371, 252, 60, 41, 38, 48)
yr5 = (0, 250)
p5 = panel("DC population per state (cells per mm³)", yr5, MA_TICKS, g5)
key(p5, [("INTERNALIZED", ORANGE), ("PRESENTING-1", RED), ("PRESENTING-2", GREEN), ("Total", BLACK),
         ("ACTIVE", PURPLE), ("RESTING", BLUE)], yr5, g5)
draw(p5, DC_INTERNALIZED, ORANGE)
draw(p5, DC_PRESENTING1, RED)
draw(p5, DC_PRESENTING2, GREEN)
draw(p5, DC_TOTAL, BLACK)
draw(p5, DC_ACTIVE, PURPLE)
draw(p5, DC_RESTING, BLUE)

# ---------------- panel 6: EP ----------------
g6 = (371, 252, 63, 43, 38, 48)
yr6 = (0, 450)
p6 = panel("EP population per state (cells per mm³)", yr6, EP_TICKS, g6)
key(p6, [("Total", BLACK), ("ACTIVE", PURPLE), ("ACTIVELY INFECTED", GREEN), ("PRESENTING-1", RED)], yr6, g6)
draw(p6, EP_TOTAL, BLACK)
draw(p6, EP_ACTIVE, PURPLE)
draw(p6, EP_INFECTED, GREEN)
draw(p6, EP_PRESENTING1, RED)

layout = column(row(p1, p2), row(p3, p4), row(p5, p6),
                styles={"outline": "1px solid #555555", "margin-left": "8px", "margin-top": "4px"})

open("out.html", "w").write(file_html(layout, INLINE))
